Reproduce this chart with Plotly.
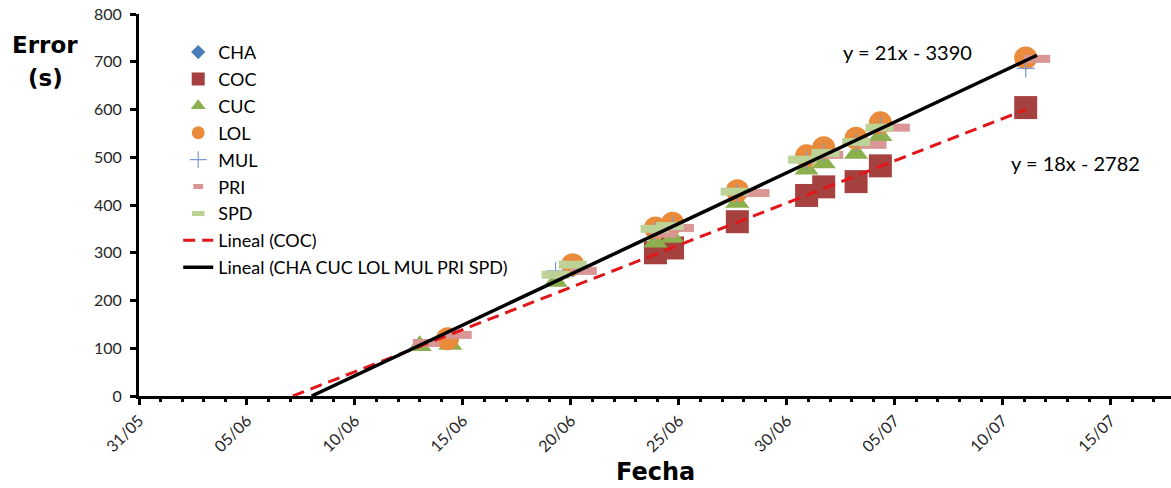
import numpy as np
import pandas as pd
import plotly.graph_objects as go

# ---- data -------------------------------------------------------------
CHA_dates = ["2013-06-14 07:00", "2013-06-20 02:00", "2013-06-23 22:00", "2013-06-24 17:00",
             "2013-06-27 17:00", "2013-06-30 22:00", "2013-07-01 17:00", "2013-07-03 05:00",
             "2013-07-04 08:00", "2013-07-11 01:30"]
CHA_vals = [118, 270, 348, 358, 426, 500, 515, 536, 574, 705]

COC_dates = ["2013-06-23 22:00", "2013-06-24 17:00", "2013-06-27 17:00", "2013-06-30 22:00",
             "2013-07-01 17:00", "2013-07-03 05:00", "2013-07-04 08:00", "2013-07-11 01:30"]
COC_vals = [300, 310, 365, 420, 438, 449, 482, 604]

CUC_dates = ["2013-06-13 00:00", "2013-06-14 10:00", "2013-06-19 07:00", "2013-06-23 22:00",
             "2013-06-24 17:00", "2013-06-27 17:00", "2013-06-30 22:00", "2013-07-01 17:00",
             "2013-07-03 05:00", "2013-07-04 08:00"]
CUC_vals = [105, 108, 240, 322, 332, 405, 475, 488, 508, 545]

LOL_dates = ["2013-06-14 07:00", "2013-06-20 02:00", "2013-06-23 22:00", "2013-06-24 17:00",
             "2013-06-27 17:00", "2013-06-30 22:00", "2013-07-01 17:00", "2013-07-03 05:00",
             "2013-07-04 08:00", "2013-07-11 01:30"]
LOL_vals = [120, 275, 352, 362, 430, 503, 520, 540, 572, 708]

MUL_dates = ["2013-06-19 07:00", "2013-06-23 22:00", "2013-06-24 17:00", "2013-06-27 17:00",
             "2013-06-30 22:00", "2013-07-01 17:00", "2013-07-03 05:00", "2013-07-04 08:00",
             "2013-07-11 01:30"]
MUL_vals = [262, 345, 356, 424, 494, 510, 530, 565, 686]

PRI_dates = ["2013-06-13 07:00", "2013-06-14 19:00", "2013-06-20 14:00", "2013-06-24 07:00",
             "2013-06-25 02:00", "2013-06-28 14:00", "2013-07-02 00:00", "2013-07-04 00:00",
             "2013-07-05 02:00", "2013-07-11 14:00"]
PRI_vals = [111, 128, 262, 340, 352, 425, 505, 526, 562, 706]

SPD_dates = ["2013-06-19 07:00", "2013-06-20 02:00", "2013-06-23 21:00", "2013-06-24 14:00",
             "2013-06-27 14:00", "2013-06-30 17:00", "2013-07-01 19:00", "2013-07-03 05:00",
             "2013-07-04 07:00"]
SPD_vals = [254, 275, 350, 356, 428, 495, 509, 532, 562]

EQ_ALL = "y = 21x - 3390"
EQ_COC = "y = 18x - 2782"

X_START = pd.Timestamp("2013-05-31")
X_END = pd.Timestamp("2013-07-17 19:00")

# ---- helpers ----------------------------------------------------------
DAY = pd.Timedelta(days=1)


def to_days(dates):
    return np.array([(pd.Timestamp(d) - X_START) / DAY for d in dates])


def trend(dates_list, vals_list):
    """Least-squares line, extended back to where it meets zero."""
    xd = np.concatenate([to_days(d) for d in dates_list])
    yv = np.concatenate([np.asarray(v, float) for v in vals_list])
    m, b = np.polyfit(xd, yv, 1)
    x0 = -b / m
    x1 = xd.max()
    xs = [X_START + x0 * DAY, X_START + x1 * DAY]
    ys = [m * x0 + b, m * x1 + b]
    return xs, ys


TXT = "Lato"
fig = go.Figure()

series = [
    ("CHA", CHA_dates, CHA_vals, dict(symbol="diamond", size=16, color="#4A7EBB"),
     dict(symbol="diamond", size=11, color="#4A7EBB")),
    ("COC", COC_dates, COC_vals, dict(symbol="square", size=23, color="#A5413E"),
     dict(symbol="square", size=13, color="#A5413E")),
    ("CUC", CUC_dates, CUC_vals, dict(symbol="triangle-up", size=21, color="#8DB04E"),
     dict(symbol="triangle-up", size=13, color="#8DB04E")),
    ("LOL", LOL_dates, LOL_vals, dict(symbol="circle", size=23, color="#E98B3A"),
     dict(symbol="circle", size=13, color="#E98B3A")),
    ("MUL", MUL_dates, MUL_vals, dict(symbol="cross-thin", size=13, line=dict(width=1.2, color="#7B9BD4")),
     dict(symbol="cross-thin", size=12, line=dict(width=1.2, color="#7B9BD4"))),
    ("PRI", PRI_dates, PRI_vals, dict(symbol="line-ew", size=19, line=dict(width=8, color="#D99694")),
     dict(symbol="line-ew", size=7, line=dict(width=5, color="#D99694"))),
    ("SPD", SPD_dates, SPD_vals, dict(symbol="line-ew", size=20, line=dict(width=8, color="#BDD297")),
     dict(symbol="line-ew", size=9, line=dict(width=5, color="#BDD297"))),
]

for name, d, v, mk, _ in series:
    fig.add_trace(go.Scatter(x=d, y=v, mode="markers", name=name, marker=mk,
                             showlegend=False, hoverinfo="x+y+name"))

# legend entries with compact symbols
for name, _, _, _, lmk in series:
    fig.add_trace(go.Scatter(x=[None], y=[None], mode="markers", name=name, marker=lmk,
                             legendgroup=name, showlegend=True))

xs, ys = trend([COC_dates], [COC_vals])
fig.add_trace(go.Scatter(x=xs, y=ys, mode="lines", name="Lineal (COC)", legendgroup="tc",
                         line=dict(color="#E0161B", width=3, dash="12px,7px")))

xs, ys = trend([CHA_dates, CUC_dates, LOL_dates, MUL_dates, PRI_dates, SPD_dates],
               [CHA_vals, CUC_vals, LOL_vals, MUL_vals, PRI_vals, SPD_vals])
fig.add_trace(go.Scatter(x=xs, y=ys, mode="lines", name="Lineal (CHA CUC LOL MUL PRI SPD)",
                         legendgroup="ta", line=dict(color="#000000", width=3.5)))

tick_font = dict(family=TXT, size=16, color="#262626")

fig.update_layout(
    width=1171, height=488,
    margin=dict(l=139, r=0, t=14, b=92),
    paper_bgcolor="white", plot_bgcolor="white",
    font=dict(family=TXT, size=16, color="#000000"),
    showlegend=True,
    legend=dict(x=0.038, y=0.948, xanchor="left", yanchor="top", bgcolor="rgba(0,0,0,0)",
                font=dict(family=TXT, size=18, color="#000000"), tracegroupgap=0.5,
                itemwidth=30),
    xaxis=dict(type="date", range=[X_START, X_END], showgrid=False, zeroline=False,
               showline=True, linecolor="black", linewidth=3,
               tick0=X_START, dtick=5 * 86400000, tickformat="%d/%m", tickangle=-45,
               ticks="outside", ticklen=6, tickwidth=3, tickcolor="black",
               tickfont=tick_font,
               minor=dict(ticks="outside", ticklen=3, tickwidth=3, tickcolor="black",
                          dtick=86400000, tick0=X_START)),
    yaxis=dict(range=[0, 800], dtick=100, showgrid=False, zeroline=False,
               showline=True, linecolor="black", linewidth=3,
               ticks="outside", ticklen=6, tickwidth=3, tickcolor="black",
               ticklabelstandoff=5, tickfont=tick_font),
    xaxis2=dict(type="date", range=[X_START, X_END], overlaying="x", side="bottom",
                showgrid=False, zeroline=False, showline=False, showticklabels=False,
                tick0=X_START, dtick=5 * 86400000, ticks="inside", ticklen=5, tickwidth=3,
                tickcolor="black"),
    yaxis2=dict(range=[0, 800], dtick=100, overlaying="y", side="left",
                showgrid=False, zeroline=False, showline=False, showticklabels=False,
                ticks="inside", ticklen=4, tickwidth=3, tickcolor="black"),
)

title_font = dict(family="DejaVu Sans", size=23, color="black")
fig.add_annotation(text="<b>Error</b>", xref="paper", yref="paper",
                   x=-0.091, y=0.919, xanchor="center", yanchor="middle", showarrow=False,
                   font=title_font)
fig.add_annotation(text="<b>(s)</b>", xref="paper", yref="paper",
                   x=-0.091, y=0.8325, xanchor="center", yanchor="middle", showarrow=False,
                   font=title_font)
fig.add_annotation(text="<b>Fecha</b>", xref="paper", yref="paper",
                   x=0.5, y=-0.198, xanchor="center", yanchor="middle", showarrow=False,
                   font=dict(family="DejaVu Sans", size=24, color="black"))
fig.add_annotation(text=EQ_ALL, xref="paper", yref="paper", x=0.745, y=0.9005,
                   xanchor="center", yanchor="middle", showarrow=False,
                   font=dict(family=TXT, size=20, color="black"))
fig.add_annotation(text=EQ_COC, xref="paper", yref="paper", x=0.907, y=0.61,
                   xanchor="center", yanchor="middle", showarrow=False,
                   font=dict(family=TXT, size=20, color="black"))

fig.write_html("out.html")
